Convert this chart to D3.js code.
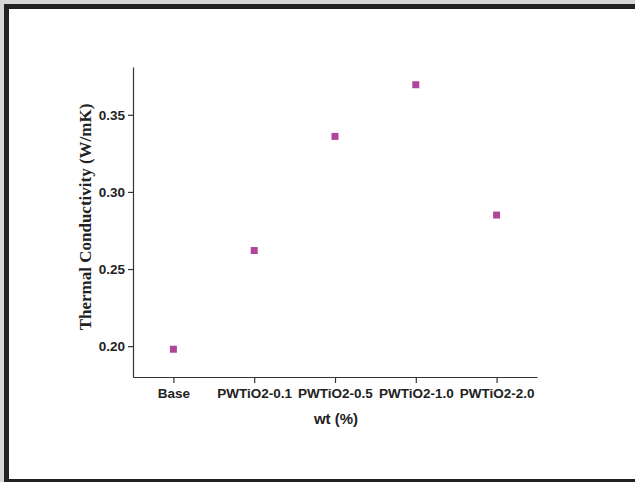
<!DOCTYPE html>
<html>
<head>
<meta charset="utf-8">
<script src="https://cdn.jsdelivr.net/npm/d3@7"></script>
<style>
  body { margin: 0; background: #fff; }
  svg { display: block; }
</style>
</head>
<body>
<svg width="635" height="482"></svg>
<script>
var categories = ["Base", "PWTiO2-0.1", "PWTiO2-0.5", "PWTiO2-1.0", "PWTiO2-2.0"];
var conductivity = [0.198, 0.262, 0.336, 0.3695, 0.285];
var yTicks = [0.20, 0.25, 0.30, 0.35];

(function() {
  var svg = d3.select("svg");

  // frame round the figure (open on the right)
  svg.append("rect").attr("x", 0).attr("y", 0).attr("width", 635).attr("height", 482).attr("fill", "#d6d6d6");
  svg.append("rect").attr("x", 4).attr("y", 4).attr("width", 640).attr("height", 482).attr("fill", "#222");
  svg.append("rect").attr("x", 9).attr("y", 9).attr("width", 640).attr("height", 470).attr("fill", "#fff");

  var x = d3.scalePoint()
      .domain(categories)
      .range([133, 537])
      .padding(0.5);

  var y = d3.scaleLinear()
      .domain([0.18, 0.381])
      .range([377, 67]);

  var gx = svg.append("g")
      .attr("transform", "translate(0,377)")
      .call(d3.axisBottom(x).tickSize(6).tickSizeOuter(0).tickPadding(5));

  var gy = svg.append("g")
      .attr("transform", "translate(133,0)")
      .call(d3.axisLeft(y).tickValues(yTicks).tickSize(5).tickSizeOuter(0).tickPadding(3)
        .tickFormat(d3.format(".2f")));

  [gx, gy].forEach(function(g) {
    g.selectAll("path, line").attr("stroke", "#333").attr("stroke-width", 1.2);
    g.selectAll("text")
      .attr("fill", "#222")
      .style("font-family", "Liberation Sans, Arial, sans-serif")
      .style("font-weight", "bold")
      .style("font-size", "13.5px");
  });

  svg.append("g").selectAll("rect")
    .data(conductivity)
    .enter().append("rect")
      .attr("x", function(d, i) { return x(categories[i]) - 3.5; })
      .attr("y", function(d) { return y(d) - 3.5; })
      .attr("width", 7)
      .attr("height", 7)
      .attr("fill", "#b0469c");

  svg.append("text")
      .attr("x", 336)
      .attr("y", 424)
      .attr("text-anchor", "middle")
      .style("font-family", "Liberation Sans, Arial, sans-serif")
      .style("font-weight", "bold")
      .style("font-size", "15px")
      .attr("fill", "#222")
      .text("wt (%)");

  svg.append("text")
      .attr("transform", "translate(91,217) rotate(-90)")
      .attr("text-anchor", "middle")
      .style("font-family", "Liberation Serif, Times New Roman, serif")
      .style("font-weight", "bold")
      .style("font-size", "17px")
      .attr("fill", "#222")
      .text("Thermal Conductivity (W/mK)");
})();
</script>
</body>
</html>
